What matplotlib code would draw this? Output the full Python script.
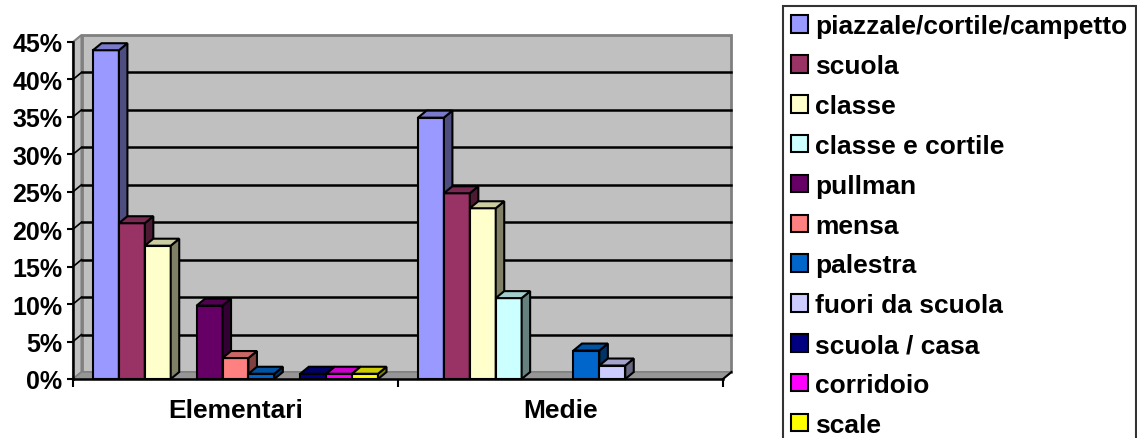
import numpy as np
import matplotlib.pyplot as plt
from matplotlib.patches import Patch, Polygon, Rectangle

plt.rcParams['font.family'] = ['Liberation Sans', 'DejaVu Sans']
plt.rcParams['font.weight'] = 'bold'

# data (percent)
categories = ['Elementari', 'Medie']
series = ['piazzale/cortile/campetto', 'scuola', 'classe', 'classe e cortile',
          'pullman', 'mensa', 'palestra', 'fuori da scuola', 'scuola / casa',
          'corridoio', 'scale']
elementari = [43.9, 20.8, 17.8, 0, 9.8, 2.8, 0.7, 0, 0.7, 0.7, 0.7]
medie = [34.9, 24.8, 22.8, 10.8, 0, 0, 3.8, 1.8, 0, 0, 0]
colors = ['#9999FF', '#993366', '#FFFFCC', '#CCFFFF', '#660066', '#FF8080',
          '#0066CC', '#CCCCFF', '#000080', '#FF00FF', '#FFFF00']

values = np.array([elementari, medie])  # shape (categories, series)

W, H = 1137, 439
fig = plt.figure(figsize=(W / 100, H / 100), dpi=100)
ax = fig.add_axes([73 / W, 59 / H, 650 / W, 337 / H])
ax.set_xlim(0, 2)
ax.set_ylim(0, 45)
ax.patch.set_visible(False)

# 3d depth in data units
DX = 8.5 / 325
DY = 7 / 7.49
wall = '#C0C0C0'
edge = '#808080'

# back wall, left wall, floor
ax.add_patch(Rectangle((DX, DY), 2, 45, facecolor=wall, edgecolor=edge, lw=2,
                       clip_on=False, zorder=0))
ax.add_patch(Polygon([(0, 0), (DX, DY), (DX, 45 + DY), (0, 45)], closed=True,
                     facecolor=wall, edgecolor=edge, lw=1.5, clip_on=False, zorder=0))
ax.add_patch(Polygon([(0, 0), (2, 0), (2 + DX, DY), (DX, DY)], closed=True,
                     facecolor='#969696', edgecolor=edge, lw=1, clip_on=False, zorder=0.5))

# gridlines
for v in range(5, 45, 5):
    ax.plot([DX, 2 + DX], [v + DY, v + DY], color='black', lw=1.8, zorder=1, clip_on=False)
    ax.plot([0, DX], [v, v + DY], color='black', lw=1.2, zorder=1, clip_on=False)
ax.plot([2, 2 + DX], [0, DY], color='black', lw=1.5, zorder=2, clip_on=False)

# bars with a fake 3d look
n = len(series)
gap = 20 / 325
bw = (1 - 2 * gap) / n
for i in range(n):
    x = np.arange(len(categories)) + gap + i * bw
    v = values[:, i]
    c = np.array(plt.matplotlib.colors.to_rgb(colors[i]))
    mask = v > 0
    ax.bar(x[mask], v[mask], width=bw, align='edge', color=colors[i],
           edgecolor='black', lw=1.5, zorder=3 + 3 * i, clip_on=False)
    for xi, vi in zip(x[mask], v[mask]):
        side = [(xi + bw, 0), (xi + bw + DX, DY), (xi + bw + DX, vi + DY), (xi + bw, vi)]
        top = [(xi, vi), (xi + bw, vi), (xi + bw + DX, vi + DY), (xi + DX, vi + DY)]
        ax.add_patch(Polygon(side, closed=True, facecolor=c * 0.5, edgecolor='black',
                             lw=1.5, zorder=4 + 3 * i, clip_on=False))
        ax.add_patch(Polygon(top, closed=True, facecolor=c * 0.8, edgecolor='black',
                             lw=1.5, zorder=4 + 3 * i, clip_on=False))

# axes
for s in ['top', 'right']:
    ax.spines[s].set_visible(False)
for s in ['left', 'bottom']:
    ax.spines[s].set_linewidth(1.8)
    ax.spines[s].set_zorder(50)
ax.set_yticks(np.arange(0, 46, 5))
ax.set_yticklabels([f'{t}%' for t in range(0, 46, 5)])
ax.tick_params(axis='y', length=4.5, width=1.5, pad=3, labelsize=18)
ax.set_xticks([0, 1, 2])
ax.set_xticklabels([])
ax.tick_params(axis='x', which='major', length=6, width=1.5)
ax.set_xticks([0.5, 1.5], minor=True)
ax.set_xticklabels(categories, minor=True)
ax.tick_params(axis='x', which='minor', length=0, pad=14, labelsize=19)

# legend
handles = [Patch(facecolor=c, edgecolor='black', lw=1.5) for c in colors]
leg = fig.legend(handles, series, loc='upper left', bbox_to_anchor=(783 / W, 1 - 7 / H),
                 fontsize=19, frameon=True, fancybox=False, edgecolor='black',
                 handlelength=0.64, handleheight=0.64, handletextpad=0.27,
                 labelspacing=0.60, borderpad=0.32, borderaxespad=0)
leg.get_frame().set_linewidth(1.5)

fig.savefig('out.png', dpi=100)
